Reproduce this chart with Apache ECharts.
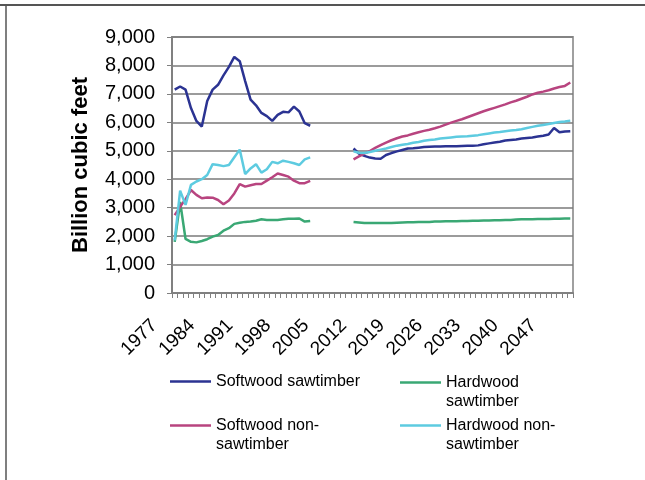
<!DOCTYPE html>
<html>
<head>
<meta charset="utf-8">
<script src="https://cdn.jsdelivr.net/npm/echarts@6/dist/echarts.min.js"></script>
<style>
  html, body { margin: 0; padding: 0; background: #fff; }
  #chart { width: 645px; height: 480px; }
</style>
</head>
<body>
<div id="chart"></div>
<script>
// categories (years)
var years = ['1977','1978','1979','1980','1981','1982','1983','1984','1985','1986',
  '1987','1988','1989','1990','1991','1992','1993','1994','1995','1996',
  '1997','1998','1999','2000','2001','2002','2003','2004','2005','2006',
  '2007','2008','2009','2010','2011','2012','2013','2014','2015','2016',
  '2017','2018','2019','2020','2021','2022','2023','2024','2025','2026',
  '2027','2028','2029','2030','2031','2032','2033','2034','2035','2036',
  '2037','2038','2039','2040','2041','2042','2043','2044','2045','2046',
  '2047','2048','2049','2050']

// no data 2003-2009
var gap = [null, null, null, null, null, null, null]

// historical 1977-2002
var softSawHist = [7150,7260,7150,6500,6050,5850,6750,7150,7320,7650,7950,8300,8150,7450,6800,6600,6330,6220,6050,6260,6370,6350,6550,6380,5970,5880]
var softNonHist = [2740,3030,3300,3620,3450,3330,3360,3350,3270,3120,3250,3500,3830,3740,3790,3830,3830,3950,4070,4200,4150,4090,3950,3860,3860,3940]
var hardSawHist = [1800,3200,1900,1800,1780,1830,1890,1980,2040,2190,2280,2430,2470,2500,2510,2540,2590,2570,2570,2570,2590,2610,2610,2620,2510,2530]
var hardNonHist = [1850,3600,3100,3800,3920,4000,4150,4530,4500,4460,4500,4770,5040,4180,4380,4530,4230,4350,4610,4560,4650,4610,4560,4500,4700,4770]

// projections 2010-2050
var softSawProj = [5080,4900,4820,4760,4730,4720,4850,4920,4980,5030,5080,5090,5110,5130,5140,5150,5150,5160,5160,5160,5170,5180,5180,5190,5230,5260,5290,5320,5360,5380,5400,5430,5450,5470,5500,5530,5570,5800,5650,5680,5690]
var softNonProj = [4700,4800,4900,4990,5100,5200,5290,5370,5440,5500,5540,5600,5650,5700,5740,5790,5850,5920,5990,6050,6110,6180,6250,6320,6390,6450,6510,6570,6630,6700,6760,6830,6900,6980,7040,7080,7130,7190,7240,7280,7400]
var hardSawProj = [2500,2480,2460,2460,2460,2460,2460,2460,2470,2480,2490,2490,2500,2500,2500,2510,2510,2520,2520,2520,2530,2530,2540,2540,2550,2550,2560,2560,2570,2570,2580,2590,2590,2590,2600,2600,2600,2610,2610,2620,2620]
var hardNonProj = [4980,4930,4920,4960,5000,5040,5080,5130,5180,5210,5240,5280,5310,5350,5380,5400,5430,5450,5470,5490,5500,5510,5530,5550,5580,5610,5640,5660,5690,5710,5730,5760,5800,5840,5880,5910,5940,5980,6010,6030,6060]

var names = ['Softwood sawtimber','Hardwood sawtimber','Softwood non-sawtimber','Hardwood non-sawtimber']
// legend text; a blank first line keeps the line symbol level with the first text line
var labels = {
  'Softwood sawtimber': 'Softwood sawtimber',
  'Hardwood sawtimber': ' \nHardwood\nsawtimber',
  'Softwood non-sawtimber': ' \nSoftwood non-\nsawtimber',
  'Hardwood non-sawtimber': ' \nHardwood non-\nsawtimber'
}
var colors = {
  'Softwood sawtimber': '#2B3392',
  'Hardwood sawtimber': '#3AA874',
  'Softwood non-sawtimber': '#B8447F',
  'Hardwood non-sawtimber': '#5DCBE0'
}
var values = {
  'Softwood sawtimber': softSawHist.concat(gap, softSawProj),
  'Hardwood sawtimber': hardSawHist.concat(gap, hardSawProj),
  'Softwood non-sawtimber': softNonHist.concat(gap, softNonProj),
  'Hardwood non-sawtimber': hardNonHist.concat(gap, hardNonProj)
}

var font = 'Liberation Sans, Arial, sans-serif'

function legendFor(name, left, top) {
  return {
    data: [name],
    left: left,
    top: top,
    padding: 0,
    icon: 'rect',
    itemWidth: 41,
    itemHeight: 2.5,
    itemGap: 0,
    formatter: function (n) { return labels[n] },
    textStyle: { fontFamily: font, fontSize: 16, lineHeight: 19, color: '#000' }
  }
}

var chart = echarts.init(document.getElementById('chart'))
chart.setOption({
  animation: false,
  textStyle: { fontFamily: font },
  graphic: [
    { type: 'line', shape: { x1: 0, y1: 5, x2: 645, y2: 5 }, style: { stroke: '#555', lineWidth: 2 } },
    { type: 'line', shape: { x1: 6, y1: 5, x2: 6, y2: 480 }, style: { stroke: '#555', lineWidth: 1.5 } }
  ],
  grid: {
    left: 172, right: 72, top: 37, bottom: 187,
    show: true, borderColor: '#a0a0a0', borderWidth: 2
  },
  legend: [
    legendFor('Softwood sawtimber', 170, 372),
    legendFor('Hardwood sawtimber', 400, 354),
    legendFor('Softwood non-sawtimber', 170, 397),
    legendFor('Hardwood non-sawtimber', 400, 397)
  ],
  xAxis: {
    type: 'category',
    data: years,
    boundaryGap: true,
    axisLine: { lineStyle: { color: '#808080', width: 2 } },
    axisTick: { show: true, interval: 0, length: 5, lineStyle: { color: '#808080' } },
    axisLabel: { interval: 6, rotate: 45, fontSize: 19, color: '#000', margin: 9, padding: [0, 29, 0, 0] },
    splitLine: { show: false }
  },
  yAxis: {
    type: 'value',
    min: 0, max: 9000, interval: 1000,
    name: 'Billion cubic feet',
    nameLocation: 'middle',
    nameGap: 80,
    nameTextStyle: { fontSize: 22, fontWeight: 'bold', color: '#000' },
    axisLine: { show: true, lineStyle: { color: '#808080', width: 2 } },
    axisTick: { show: true, length: 5, lineStyle: { color: '#808080' } },
    axisLabel: {
      fontSize: 20, color: '#000', margin: 17,
      formatter: function (v) { return v.toLocaleString('en-US') }
    },
    splitLine: { lineStyle: { color: '#7a7a7a', width: 1.5 } }
  },
  series: names.map(function (n) {
    return {
      name: n,
      type: 'line',
      data: values[n],
      showSymbol: false,
      symbol: 'none',
      connectNulls: false,
      lineStyle: { width: 2.5, color: colors[n] },
      itemStyle: { color: colors[n] }
    }
  })
})
</script>
</body>
</html>
